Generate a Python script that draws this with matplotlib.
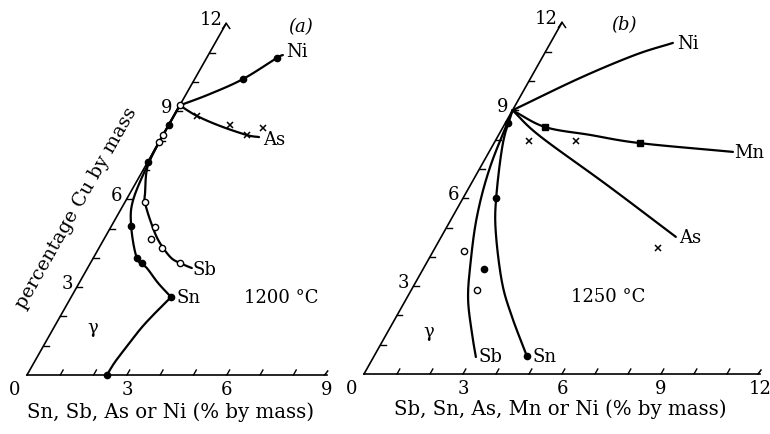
import numpy as np
import matplotlib
matplotlib.use("Agg")
import matplotlib.pyplot as plt
from matplotlib.transforms import Affine2D

plt.rcParams['font.family'] = ['DejaVu Serif', 'DejaVu Sans']

# ---- panel (a), 1200 C: (alloy %, Cu %) along the two axes ----
a_start = (0.0, 9.2)

a_ni_u = [0.0, 0.71, 1.45, 2.11, 2.24]
a_ni_v = [9.2, 9.59, 10.10, 10.82, 10.92]
a_ni_dot_u = [1.45, 2.11]
a_ni_dot_v = [10.10, 10.82]

a_as_u = [0.0, 0.70, 1.56, 2.52, 2.92]
a_as_v = [9.2, 8.84, 8.50, 8.19, 8.12]
a_as_x_u = [0.70, 1.84, 2.52, 2.88]
a_as_x_v = [8.84, 8.53, 8.19, 8.43]

a_sb_u = [0.0, 0.0, 0.06, 0.45, 0.60, 1.06, 1.64, 2.29, 2.69, 3.13]
a_sb_v = [9.2, 8.2, 7.17, 6.21, 5.90, 5.29, 4.61, 4.03, 3.82, 3.65]
a_sb_o_u = [0.0, 0.0, 0.60, 1.33, 1.41, 1.89, 2.69]
a_sb_o_v = [8.19, 7.95, 5.90, 5.05, 4.64, 4.33, 3.82]

a_sn_u = [0.0, 0.0, 0.04, 0.21, 0.59, 1.31, 1.78, 2.37, 3.00]
a_sn_v = [9.2, 8.3, 7.27, 5.97, 5.09, 3.99, 3.65, 3.14, 2.66]
a_sn_low_u = [3.00, 2.83, 2.64, 2.52, 2.42, 2.40]
a_sn_low_v = [2.66, 2.22, 1.64, 1.02, 0.44, 0.0]
a_sn_dot_u = [0.0, 0.0, 0.59, 1.31, 1.55, 3.00, 2.40]
a_sn_dot_v = [8.53, 7.27, 5.09, 3.99, 3.82, 2.66, 0.0]

# ---- panel (b), 1250 C ----
b_ni_u = [0.0, 1.49, 2.77, 3.71]
b_ni_v = [9.0, 10.10, 10.89, 11.30]

b_mn_u = [0.0, 1.27, 2.77, 4.42, 7.39]
b_mn_v = [9.0, 8.43, 8.16, 7.88, 7.58]
b_mn_sq_u = [1.27, 4.42]
b_mn_sq_v = [8.43, 7.88]
b_mn_x_u = [1.02, 2.45]
b_mn_x_v = [7.95, 7.95]

b_as_u = [0.0, 1.27, 4.14, 7.11]
b_as_v = [9.0, 8.12, 6.45, 4.68]
b_as_x_u = [6.76]
b_as_x_v = [4.30]

b_sb_u = [0.0, 0.29, 0.74, 1.39, 1.89, 2.57, 3.10]
b_sb_v = [9.0, 7.06, 5.36, 3.65, 2.53, 1.40, 0.58]

b_sn_u = [0.0, 0.27, 1.00, 1.59, 2.63, 3.51, 4.63]
b_sn_v = [9.0, 7.88, 6.01, 4.81, 3.11, 1.95, 0.61]
b_sn_dot_u = [0.08, 1.00, 4.63]
b_sn_dot_v = [8.57, 6.01, 0.61]

b_open_u = [0.93, 1.99]
b_open_v = [4.20, 2.87]
b_fill_u = [1.85]
b_fill_v = [3.58]

a_bottom_ticks = [0, 3, 6, 9]
b_bottom_ticks = [0, 3, 6, 9, 12]
oblique_ticks = [3, 6, 9, 12]


def smooth(u, v, n=30):
    # Catmull-Rom through the read points, for drawing only
    pts = np.column_stack([u, v]).astype(float)
    p = np.vstack([2 * pts[0] - pts[1], pts, 2 * pts[-1] - pts[-2]])
    t = np.linspace(0, 1, n, endpoint=False)[:, None]
    out = []
    for i in range(1, len(p) - 2):
        p0, p1, p2, p3 = p[i - 1], p[i], p[i + 1], p[i + 2]
        out.append(0.5 * (2 * p1 + (-p0 + p2) * t
                          + (2 * p0 - 5 * p1 + 4 * p2 - p3) * t ** 2
                          + (-p0 + 3 * p1 - 3 * p2 + p3) * t ** 3))
    out.append(pts[-1:])
    s = np.vstack(out)
    return s[:, 0], s[:, 1]


fig = plt.figure(figsize=(7.7, 4.34), dpi=100)
ax = fig.add_axes([0, 0, 1, 1])
ax.set_xlim(0, 770)
ax.set_ylim(434, 0)
ax.axis('off')

FS = 13
FS_LABEL = 14.2
LW = 1.6


def panel(x0, y0, sx, ox, oy, xmax):
    aff = Affine2D(np.array([[sx, ox, x0], [0, -oy, y0], [0, 0, 1.0]]))
    tr = aff + ax.transData

    # axes: bottom line and the 60-degree Cu axis
    ax.plot([0, xmax], [0, 0], color='k', lw=1.2, transform=tr)
    ax.plot([0, 0], [0, 12], color='k', lw=1.2, transform=tr)
    tip = aff.transform((0, 12))
    ax.plot([tip[0] - 3.5, tip[0], tip[0] + 3.5], [tip[1] + 5, tip[1], tip[1] + 5],
            color='k', lw=1.1)
    end = aff.transform((xmax, 0))
    ax.plot([end[0] - 2, end[0] + 1], [end[1], end[1] - 4], color='k', lw=1.1)

    # ternary-style ticks
    for k in range(1, xmax):
        ax.plot([k, k], [0, 0.17], color='k', lw=1.0, transform=tr)
    for k in range(1, 12):
        ax.plot([0, 0.16], [k, k], color='k', lw=1.0, transform=tr)
    return aff, tr


def tick_labels(aff, bottom):
    for t in bottom:
        px, py = aff.transform((t, 0))
        if t == 0:
            px -= 12
        ax.text(px, py + 15, str(t), ha='center', va='center', fontsize=FS)
    for t in oblique_ticks:
        px, py = aff.transform((0, t))
        ax.text(px - 4, py - 3, str(t), ha='right', va='center', fontsize=FS)


def curve(tr, u, v):
    su, sv = smooth(u, v)
    ax.plot(su, sv, color='k', lw=LW, transform=tr, solid_capstyle='round')


def dots(tr, u, v, kind):
    if kind == 'filled':
        ax.plot(u, v, 'o', ms=4.5, color='k', transform=tr)
    elif kind == 'open':
        ax.plot(u, v, 'o', ms=4.5, mfc='white', mec='k', mew=1.0, transform=tr)
    elif kind == 'cross':
        ax.plot(u, v, 'x', ms=4, mec='k', mew=1.1, transform=tr)
    elif kind == 'square':
        ax.plot(u, v, 's', ms=3.8, color='k', transform=tr)


# panel (a)
aff_a, tr_a = panel(27, 375, 33.3, 16.6, 29.3, 9)
curve(tr_a, a_ni_u, a_ni_v)
curve(tr_a, a_as_u, a_as_v)
curve(tr_a, a_sb_u, a_sb_v)
curve(tr_a, a_sn_u, a_sn_v)
curve(tr_a, a_sn_low_u, a_sn_low_v)
dots(tr_a, a_ni_dot_u, a_ni_dot_v, 'filled')
dots(tr_a, a_as_x_u, a_as_x_v, 'cross')
dots(tr_a, a_sn_dot_u, a_sn_dot_v, 'filled')
dots(tr_a, a_sb_o_u, a_sb_o_v, 'open')
dots(tr_a, [a_start[0]], [a_start[1]], 'open')
tick_labels(aff_a, a_bottom_ticks)

ax.text(301, 27, '(a)', fontsize=FS, style='italic', ha='center', va='center')
ax.text(286, 52, 'Ni', fontsize=FS, ha='left', va='center')
ax.text(263, 140, 'As', fontsize=FS, ha='left', va='center')
ax.text(192, 270, 'Sb', fontsize=FS, ha='left', va='center')
ax.text(176, 298, 'Sn', fontsize=FS, ha='left', va='center')
ax.text(281, 298, '1200 °C', fontsize=FS, ha='center', va='center')
ax.text(93, 328, 'γ', fontsize=FS, ha='center', va='center')
ax.text(76, 208, 'percentage Cu by mass', fontsize=13.8, rotation=60.5,
        ha='center', va='center', rotation_mode='anchor')
ax.text(171, 412, 'Sn, Sb, As or Ni (% by mass)', fontsize=FS_LABEL,
        ha='center', va='center')

# panel (b)
aff_b, tr_b = panel(364, 374, 33.0, 16.5, 29.3, 12)
curve(tr_b, b_ni_u, b_ni_v)
curve(tr_b, b_mn_u, b_mn_v)
curve(tr_b, b_as_u, b_as_v)
curve(tr_b, b_sb_u, b_sb_v)
curve(tr_b, b_sn_u, b_sn_v)
dots(tr_b, b_mn_sq_u, b_mn_sq_v, 'square')
dots(tr_b, b_mn_x_u, b_mn_x_v, 'cross')
dots(tr_b, b_as_x_u, b_as_x_v, 'cross')
dots(tr_b, b_sn_dot_u, b_sn_dot_v, 'filled')
dots(tr_b, b_open_u, b_open_v, 'open')
dots(tr_b, b_fill_u, b_fill_v, 'filled')
tick_labels(aff_b, b_bottom_ticks)

ax.text(624, 25, '(b)', fontsize=FS, style='italic', ha='center', va='center')
ax.text(677, 44, 'Ni', fontsize=FS, ha='left', va='center')
ax.text(734, 153, 'Mn', fontsize=FS, ha='left', va='center')
ax.text(679, 238, 'As', fontsize=FS, ha='left', va='center')
ax.text(478, 357, 'Sb', fontsize=FS, ha='left', va='center')
ax.text(533, 357, 'Sn', fontsize=FS, ha='left', va='center')
ax.text(608, 297, '1250 °C', fontsize=FS, ha='center', va='center')
ax.text(429, 332, 'γ', fontsize=FS, ha='center', va='center')
ax.text(560, 409, 'Sb, Sn, As, Mn or Ni (% by mass)', fontsize=FS_LABEL,
        ha='center', va='center')

fig.savefig('out.png', dpi=100)
